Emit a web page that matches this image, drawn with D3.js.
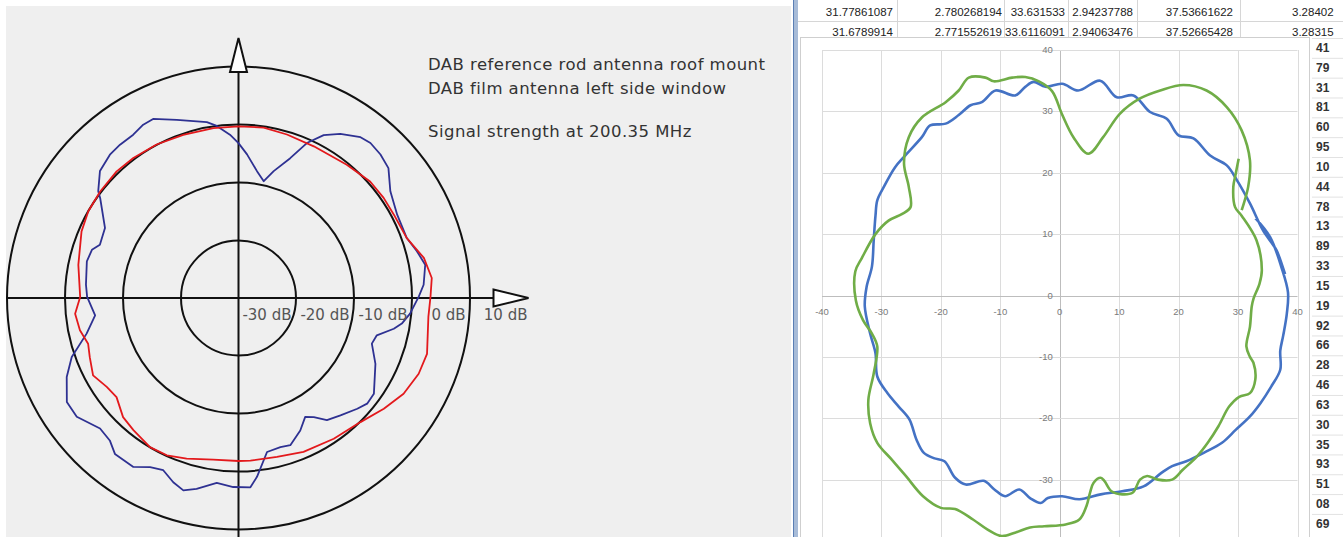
<!DOCTYPE html>
<html><head><meta charset="utf-8">
<script src="https://cdn.jsdelivr.net/npm/d3@7"></script>
<style>html,body{margin:0;padding:0;background:#fff;overflow:hidden}svg{display:block}</style>
</head><body>
<script>
// ---------- DATA ----------
// Left polar chart: angle (deg, clockwise from north) and level (dB)
const leftBlueAngle = [0,3.4,8.3,12.2,15.5,20.3,23.8,27.6,31.8,37.2,40.4,44.7,49.1,54.9,62.3,70.4,75.3,79.9,85.9,89.5,95.2,98.9,101.2,105.1,108.9,115.7,125.3,129.4,133.0,139.0,144.1,147.7,150.7,155.0,160.6,164.3,169.5,174.1,176.4,181.6,186.7,192.4,196.0,199.5,203.6,207.6,211.9,218.4,222.1,226.7,233.7,238.8,245.3,250.5,256.8,263.1,270.4,275.0,283.6,288.2,291.0,297.7,305.8,307.3,312.5,318.1,322.3,327.2,331.2,334.5,340.9,349.8,352.8,357.0];
const leftBlueDb = [-13.3,-15.2,-17.9,-19.4,-17.3,-14.3,-10.8,-8.3,-6.7,-5.2,-4.9,-5.2,-5.8,-8.0,-9.1,-9.2,-8.2,-7.3,-8.0,-8.9,-10.3,-11.5,-12.7,-15.3,-15.7,-13.8,-11.4,-11.3,-12.0,-13.2,-14.0,-15.7,-16.5,-14.8,-13.1,-13.3,-13.0,-9.0,-7.3,-7.4,-7.9,-6.3,-5.5,-6.3,-7.6,-7.1,-5.7,-5.7,-6.9,-7.2,-5.4,-5.4,-7.4,-9.5,-13.1,-15.1,-13.9,-13.6,-13.1,-13.4,-14.4,-14.0,-10.6,-9.6,-7.6,-6.8,-6.6,-6.5,-5.9,-5.8,-7.5,-9.2,-10.1,-11.8];
const leftRedAngle = [0,8.4,16.5,26.4,39.1,48.5,55.4,61.8,70.4,77.8,84.1,89.7,95.7,106.5,112.8,120.1,127.3,135.5,145.9,157.1,166.4,175.8,180,188.9,197.9,204.5,210.7,218.5,224.1,230.9,236.0,242.0,248.3,253.1,258.5,264.5,270.4,281.7,293.0,300.0,307.6,316.1,323.1,331.9,341.3,351.6];
const leftRedDb = [-10.4,-10.3,-10.6,-10.8,-10.4,-9.7,-9.6,-9.6,-9.2,-7.3,-6.5,-6.9,-7.1,-6.1,-6.3,-7.1,-8.5,-10.0,-10.7,-11.2,-11.8,-11.9,-11.9,-11.8,-10.9,-10.2,-10.1,-10.9,-11.4,-12.9,-12.6,-11.6,-12.4,-12.9,-12.1,-11.7,-12.7,-11.8,-10.6,-10.1,-9.9,-9.7,-9.8,-10.0,-10.3,-10.4];
const ringLevels = [-30,-20,-10,0];
const ringLabels = ["-30 dB","-20 dB","-10 dB","0 dB","10 dB"];
const ringLabelLevels = [-30,-20,-10,0,10];
const legendLines = ["DAB reference rod antenna roof mount","DAB film antenna left side window","Signal strength at 200.35 MHz"];

// Right (spreadsheet scatter) chart: x / y values
const rightBlueX = [32.9,35.4,37.3,38.4,38.2,37.6,37.1,37.1,35.6,33.8,32.0,29.6,27.3,24.3,21.3,18.9,17.1,14.1,10.5,6.9,3.3,0.4,-2.0,-3.2,-5.0,-6.8,-9.2,-11.0,-12.8,-15.8,-17.6,-19.4,-21.2,-22.9,-24.1,-25.3,-27.1,-29.0,-30.7,-31.0,-31.9,-32.8,-32.5,-31.6,-31.3,-31.0,-30.7,-29.6,-27.7,-26.2,-23.2,-21.8,-19.2,-17.0,-15.0,-13.1,-10.8,-7.5,-5.8,-4.4,-2.4,0.4,3.1,6.8,9.6,12.4,15.2,18.0,20.0,22.5,25.3,28.1,29.8,32.0,34.2,36.5,37.9];
const rightBlueY = [12.6,9.5,4.6,0.5,-3.0,-6.5,-9.0,-12.1,-14.8,-17.5,-19.7,-21.9,-24.0,-25.6,-27.0,-27.8,-28.9,-31.1,-31.9,-32.4,-33.2,-32.7,-33.0,-33.8,-33.0,-31.6,-32.7,-31.6,-30.2,-30.8,-29.7,-27.0,-26.5,-25.6,-23.5,-20.2,-18.1,-15.9,-13.2,-9.4,-6.2,-1.8,1.4,4.7,9.0,13.0,15.5,17.7,20.9,22.6,25.8,27.7,28.0,29.4,31.0,31.5,33.4,32.6,34.0,34.8,34.0,34.5,33.4,35.0,32.3,32.6,29.9,28.8,26.1,25.6,22.8,21.2,18.8,15.0,10.6,7.3,3.5];
const rightGreenX = [30.1,29.6,29.2,29.5,30.6,33.1,34.0,33.6,32.6,32.3,32.0,31.4,32.0,32.6,32.9,32.0,30.2,28.5,26.7,24.9,23.1,20.7,18.9,16.5,14.7,13.5,12.3,10.5,8.7,7.5,6.9,5.7,5.1,4.5,3.3,1.0,-2.6,-5.0,-7.4,-9.8,-12.2,-14.6,-17.6,-20.0,-23.0,-25.9,-28.3,-30.7,-31.9,-32.2,-31.3,-30.7,-31.6,-33.1,-34.3,-34.4,-33.3,-31.0,-28.8,-26.5,-25.1,-25.4,-26.2,-25.4,-23.2,-19.2,-17.0,-15.3,-12.5,-11.1,-8.0,-5.8,-3.5,-1.3,0.4,2.3,4.8,7.3,10.1,13.5,16.9,20.8,24.7,28.1,30.6,32.0,31.7,30.6];
const rightGreenY = [22.3,19.8,17.7,14.4,13.0,9.0,4.1,1.9,-0.5,-1.8,-5.1,-8.3,-10.0,-11.0,-13.7,-15.9,-16.5,-18.1,-21.3,-24.0,-26.2,-28.4,-30.0,-30.0,-29.4,-30.0,-32.1,-32.4,-31.9,-30.2,-29.7,-30.5,-32.1,-34.3,-36.5,-37.3,-37.6,-37.8,-38.6,-39.2,-38.1,-36.5,-34.8,-34.6,-32.7,-29.4,-26.7,-24.0,-20.8,-17.0,-12.7,-8.3,-6.2,-4.0,-0.8,3.9,6.1,10.0,12.2,13.3,14.4,17.7,21.5,25.8,29.0,31.5,33.4,35.5,35.5,34.9,35.5,35.6,34.9,33.3,29.5,25.8,23.1,25.8,29.6,32.1,33.4,34.3,33.4,30.7,26.9,22.0,17.7,13.9];
const rightTicks = [-40,-30,-20,-10,0,10,20,30,40];
const cellRow1 = ["31.77861087","2.780268194","33.631533","2.94237788","37.53661622","3.28402"];
const cellRow2 = ["31.6789914","2.771552619","33.6116091","2.94063476","37.52665428","3.28315"];
const cellColumn = ["41","79","31","81","60","95","10","44","78","13","89","33","15","19","92","66","28","46","63","30","35","93","51","08","69"];

// ---------- DRAW ----------
const W = 1343, H = 537;
const svg = d3.select("body").append("svg").attr("width", W).attr("height", H);
svg.append("rect").attr("width", W).attr("height", H).attr("fill", "#fff");

// ===== Left panel =====
svg.append("rect").attr("x", 6).attr("y", 6).attr("width", 785).attr("height", H - 6).attr("fill", "#efefef");
const cx = 238.5, cy = 298;
const r = d3.scaleLinear().domain([-40, 10]).range([0, 290]);
const gL = svg.append("g").attr("transform", `translate(${cx},${cy})`);

gL.selectAll("circle.ring").data(ringLevels).join("circle")
  .attr("class", "ring").attr("r", d => r(d) - 0.5)
  .attr("fill", "none").attr("stroke", "#111").attr("stroke-width", 2);

// axes and arrows
const tip = r(10) - 30, aLen = 34, aHalf = 8.5;
gL.append("line").attr("x1", 6 - cx).attr("x2", r(10) - 35).attr("y1", 0).attr("y2", 0).attr("stroke", "#111").attr("stroke-width", 2);
gL.append("line").attr("x1", 0).attr("x2", 0).attr("y1", -(tip - aLen)).attr("y2", H - cy).attr("stroke", "#111").attr("stroke-width", 2);
gL.append("path").attr("d", `M${r(10) - 35},${-aHalf} L${r(10)},0 L${r(10) - 35},${aHalf} Z`)
  .attr("fill", "#fff").attr("stroke", "#111").attr("stroke-width", 2);
gL.append("path").attr("d", `M${-aHalf},${-(tip - aLen)} L0,${-tip} L${aHalf},${-(tip - aLen)} Z`)
  .attr("fill", "#fff").attr("stroke", "#111").attr("stroke-width", 2);

// curves
const radial = d3.lineRadial().curve(d3.curveLinearClosed);
function polarPts(angles, dbs){ return angles.map((a,i)=>[a*Math.PI/180, r(dbs[i])]); }
gL.append("path").attr("d", radial(polarPts(leftBlueAngle, leftBlueDb)))
  .attr("fill", "none").attr("stroke", "#2e3192").attr("stroke-width", 1.8).attr("stroke-linejoin", "round");
gL.append("path").attr("d", radial(polarPts(leftRedAngle, leftRedDb)))
  .attr("fill", "none").attr("stroke", "#e3191c").attr("stroke-width", 1.8).attr("stroke-linejoin", "round");

// ring labels
gL.selectAll("text.rl").data(ringLabels).join("text")
  .attr("x", (d,i) => r(ringLabelLevels[i]) - (i < 4 ? 5 : 1))
  .attr("y", 22).attr("text-anchor", "end")
  .attr("font-family", "DejaVu Sans, sans-serif").attr("font-size", 15).attr("fill", "#555")
  .text(d => d);

// legend text
svg.selectAll("text.lg").data(legendLines).join("text")
  .attr("x", 428).attr("y", (d,i) => [70, 94, 137][i])
  .attr("font-family", "DejaVu Sans, sans-serif").attr("font-size", 16.5).attr("letter-spacing", 0.45).attr("fill", "#333")
  .text(d => d);

// ===== Right panel (spreadsheet) =====
svg.append("rect").attr("x", 791).attr("y", 0).attr("width", W - 791).attr("height", H).attr("fill", "#fff");
svg.append("rect").attr("x", 793).attr("y", 0).attr("width", 5).attr("height", H).attr("fill", "#a8bcd8");
svg.append("line").attr("x1", 793.5).attr("x2", 793.5).attr("y1", 0).attr("y2", H).attr("stroke", "#5b7fb5");

// cell grid and top rows
const cellRight = [893, 1002, 1065, 1133, 1233];
const cellBorders = [897, 1004, 1068, 1137, 1240];
svg.selectAll("line.cb").data(cellBorders).join("line")
  .attr("x1", d => d + 0.5).attr("x2", d => d + 0.5).attr("y1", 0).attr("y2", 40)
  .attr("stroke", "#d6d6d6");
svg.append("line").attr("x1", 798).attr("x2", W).attr("y1", 21.5).attr("y2", 21.5).attr("stroke", "#d6d6d6");
function cellRow(vals, yy){
  svg.selectAll(null).data(vals).join("text")
    .attr("x", (d,i) => i < 5 ? cellRight[i] : 1292)
    .attr("y", yy).attr("text-anchor", (d,i) => i < 5 ? "end" : "start")
    .attr("font-family", "Liberation Sans, Arial, sans-serif").attr("font-size", 11.5).attr("fill", "#222")
    .text(d => d);
}
cellRow(cellRow1, 16);
cellRow(cellRow2, 36);

// chart frame
svg.append("rect").attr("x", 800.5).attr("y", 37.5).attr("width", 509).attr("height", H).attr("fill", "#fff").attr("stroke", "#cfcfcf");

// right column cells
svg.selectAll("text.cc").data(cellColumn).join("text")
  .attr("x", 1316).attr("y", (d,i) => 52 + i * 19.83)
  .attr("font-family", "Liberation Sans, Arial, sans-serif").attr("font-size", 12).attr("font-weight", "bold").attr("fill", "#333")
  .text(d => d);
svg.selectAll("line.cl").data(cellColumn).join("line")
  .attr("x1", 1312).attr("x2", W).attr("y1", (d,i) => 38.5 + i * 19.83).attr("y2", (d,i) => 38.5 + i * 19.83)
  .attr("stroke", "#e2e2e2");

const x = d3.scaleLinear().domain([-40, 40]).range([822, 1297.5]);
const y = d3.scaleLinear().domain([-40, 40]).range([541, 50]);
const gR = svg.append("g");
// gridlines
gR.selectAll("line.vg").data(rightTicks).join("line")
  .attr("x1", d => Math.round(x(d)) + 0.5).attr("x2", d => Math.round(x(d)) + 0.5)
  .attr("y1", y(40)).attr("y2", H)
  .attr("stroke", d => d === 0 ? "#bdbdbd" : "#dcdcdc");
gR.selectAll("line.hg").data(rightTicks.filter(d => d > -40)).join("line")
  .attr("y1", d => Math.round(y(d)) + 0.5).attr("y2", d => Math.round(y(d)) + 0.5)
  .attr("x1", x(-40)).attr("x2", x(40))
  .attr("stroke", d => d === 0 ? "#bdbdbd" : "#dcdcdc");
// tick labels
gR.selectAll("text.xl").data(rightTicks).join("text")
  .attr("x", d => x(d)).attr("y", y(0) + 19).attr("text-anchor", "middle")
  .attr("font-family", "Liberation Sans, Arial, sans-serif").attr("font-size", 9.5).attr("fill", "#7a7a7a")
  .text(d => d);
gR.selectAll("text.yl").data(rightTicks.filter(d => d > -40)).join("text")
  .attr("x", x(0) - 7).attr("y", d => y(d) + 3).attr("text-anchor", "end")
  .attr("font-family", "Liberation Sans, Arial, sans-serif").attr("font-size", 9.5).attr("fill", "#7a7a7a")
  .text(d => d);

// series
const line = d3.line().curve(d3.curveCatmullRom.alpha(0.5));
const bluePts = rightBlueX.map((v,i) => [x(v), y(rightBlueY[i])]);
const greenPts = rightGreenX.map((v,i) => [x(v), y(rightGreenY[i])]);
gR.append("path").attr("d", line(bluePts)).attr("fill", "none").attr("stroke", "#4472c4").attr("stroke-width", 2.6).attr("stroke-linejoin", "round");
gR.append("path").attr("d", line(greenPts)).attr("fill", "none").attr("stroke", "#70ad47").attr("stroke-width", 2.6).attr("stroke-linejoin", "round");
</script>
</body></html>
